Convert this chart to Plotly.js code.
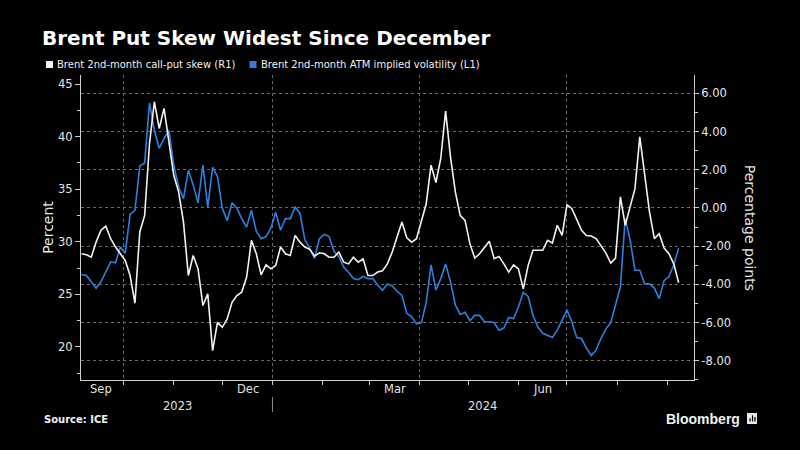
<!DOCTYPE html>
<html>
<head>
<meta charset="utf-8">
<script src="https://cdn.plot.ly/plotly-3.0.1.min.js"></script>
<style>html,body{margin:0;padding:0;background:#000;}#chart{width:800px;height:450px;}</style>
</head>
<body>
<div id="chart"></div>
<script>
// ---- data ----
const dates = [
'2023-09-05','2023-09-08','2023-09-11','2023-09-14','2023-09-17','2023-09-20','2023-09-23','2023-09-26','2023-09-29','2023-10-02',
'2023-10-05','2023-10-08','2023-10-11','2023-10-14','2023-10-17','2023-10-20','2023-10-23','2023-10-26','2023-10-29','2023-11-01',
'2023-11-04','2023-11-07','2023-11-10','2023-11-13','2023-11-16','2023-11-19','2023-11-22','2023-11-25','2023-11-28','2023-12-01',
'2023-12-04','2023-12-07','2023-12-10','2023-12-13','2023-12-16','2023-12-19','2023-12-22','2023-12-25','2023-12-28','2023-12-31',
'2024-01-03','2024-01-06','2024-01-09','2024-01-12','2024-01-15','2024-01-18','2024-01-21','2024-01-24','2024-01-27','2024-01-30',
'2024-02-02','2024-02-05','2024-02-08','2024-02-11','2024-02-14','2024-02-17','2024-02-20','2024-02-23','2024-02-26','2024-02-29',
'2024-03-03','2024-03-06','2024-03-09','2024-03-12','2024-03-15','2024-03-18','2024-03-21','2024-03-24','2024-03-27','2024-03-30',
'2024-04-02','2024-04-05','2024-04-08','2024-04-11','2024-04-14','2024-04-17','2024-04-20','2024-04-23','2024-04-26','2024-04-29',
'2024-05-02','2024-05-05','2024-05-08','2024-05-11','2024-05-14','2024-05-17','2024-05-20','2024-05-23','2024-05-26','2024-05-29',
'2024-06-01','2024-06-04','2024-06-07','2024-06-10','2024-06-13','2024-06-16','2024-06-19','2024-06-22','2024-06-25','2024-06-28',
'2024-07-01','2024-07-04','2024-07-07','2024-07-10','2024-07-13','2024-07-16','2024-07-19','2024-07-22','2024-07-25','2024-07-28',
'2024-07-31','2024-08-03','2024-08-06','2024-08-09','2024-08-12','2024-08-15','2024-08-18','2024-08-21','2024-08-24','2024-08-27',
'2024-08-30','2024-09-02','2024-09-05','2024-09-08'
];

// Brent 2nd-month call-put skew, percentage points (right axis)
const callPutSkew = [
-2.40,-2.45,-2.58,-1.79,-1.17,-0.95,-1.61,-2.05,-2.40,-2.75,
-3.54,-4.99,-1.26,-0.39,3.37,5.56,4.16,5.21,3.46,1.71,
0.84,-0.74,-3.54,-2.49,-3.19,-5.11,-4.50,-7.47,-5.99,-6.25,
-5.81,-4.94,-4.59,-4.41,-3.63,-1.70,-2.40,-3.50,-2.98,-3.19,
-3.01,-2.05,-2.40,-2.49,-1.44,-1.79,-2.05,-2.17,-2.52,-2.35,
-2.40,-2.58,-2.58,-2.31,-2.84,-2.93,-2.58,-2.84,-2.66,-3.54,
-3.54,-3.36,-3.29,-2.93,-2.31,-1.52,-0.74,-1.56,-1.79,-1.61,
-0.74,0.22,2.24,1.33,2.59,5.07,2.67,0.84,-0.39,-0.65,
-1.87,-2.63,-2.40,-2.05,-1.74,-2.66,-2.54,-2.93,-3.36,-2.98,
-3.19,-4.24,-3.01,-2.22,-2.22,-2.22,-1.70,-1.84,-0.91,-1.44,
0.17,-0.04,-0.60,-1.17,-1.44,-1.47,-1.61,-1.99,-2.35,-2.89,
-2.63,0.58,-0.91,0.05,1.01,3.72,1.89,-0.21,-1.61,-1.35,
-2.10,-2.40,-2.93,-3.92
];

// Brent 2nd-month ATM implied volatility, percent (left axis)
const atmImpliedVol = [
26.9,26.8,26.2,25.6,26.2,27.1,28.1,28.0,29.5,28.9,
32.6,33.0,37.2,37.5,43.2,40.6,38.9,39.8,40.6,37.3,
35.2,34.1,36.8,35.4,33.7,37.3,33.3,37.1,36.2,33.2,
32.0,33.7,33.2,32.2,31.4,33.0,31.0,30.3,30.5,31.3,
32.8,31.1,32.2,32.2,33.3,32.7,30.2,29.4,28.4,30.3,
30.7,30.5,29.1,28.6,27.6,27.1,26.5,26.4,26.7,26.5,
26.5,25.9,25.4,26.0,25.8,25.3,24.9,23.2,22.9,22.2,
22.3,24.2,27.8,25.4,26.5,27.9,26.2,24.0,23.1,23.3,
22.5,23.0,23.0,22.4,22.4,22.3,21.6,21.8,22.8,22.7,
23.8,25.2,24.8,23.0,21.9,21.3,21.1,20.9,21.6,22.5,
23.5,22.4,20.9,20.8,19.9,19.2,19.7,20.8,21.7,22.3,
24.1,25.7,32.2,30.2,27.3,27.3,26.0,26.0,25.6,24.6,
26.3,26.7,27.8,29.4
];

const leftTickVals = [20, 25, 30, 35, 40, 45];
const rightTickVals = [-8, -6, -4, -2, 0, 2, 4, 6];
const rightTickText = ['-8.00', '-6.00', '-4.00', '-2.00', '0.00', '2.00', '4.00', '6.00'];
const monthLabels = ['Sep', 'Dec', 'Mar', 'Jun'];
const monthLabelDates = ['2023-09-17', '2023-12-17', '2024-03-17', '2024-06-16'];
const yearLabels = ['2023', '2024'];
const yearLabelDates = ['2023-11-03', '2024-05-10'];
const yearBoundary = '2024-01-01';

const seriesNames = ['Brent 2nd-month call-put skew (R1)', 'Brent 2nd-month ATM implied volatility (L1)'];
const WHITE = '#f2f2f2';
const BLUE = '#2f7fdc';
const FONT = 'DejaVu Sans, Verdana, sans-serif';

const traces = [
  {x: dates, y: atmImpliedVol, name: seriesNames[1], type: 'scatter', mode: 'lines',
   yaxis: 'y', line: {color: BLUE, width: 1.6}},
  {x: dates, y: callPutSkew, name: seriesNames[0], type: 'scatter', mode: 'lines',
   yaxis: 'y2', line: {color: WHITE, width: 1.6}}
];

const annotations = [];
monthLabels.forEach((t, i) => annotations.push({
  text: t, x: monthLabelDates[i], xref: 'x', y: -0.03, yref: 'paper',
  xanchor: 'center', yanchor: 'middle', showarrow: false,
  font: {family: FONT, size: 11.5, color: '#e0e0e0'}
}));
yearLabels.forEach((t, i) => annotations.push({
  text: t, x: yearLabelDates[i], xref: 'x', y: -0.085, yref: 'paper',
  xanchor: 'center', yanchor: 'middle', showarrow: false,
  font: {family: FONT, size: 11.5, color: '#e0e0e0'}
}));
// legend texts
annotations.push({text: seriesNames[0], x: -0.0424, xref: 'paper', y: 1.0344, yref: 'paper',
  xanchor: 'left', yanchor: 'middle', showarrow: false, font: {family: FONT, size: 10, color: '#f0f0f0'}});
annotations.push({text: seriesNames[1], x: 0.2896, xref: 'paper', y: 1.0344, yref: 'paper',
  xanchor: 'left', yanchor: 'middle', showarrow: false, font: {family: FONT, size: 10, color: '#f0f0f0'}});
// right axis title
annotations.push({text: 'Percentage points', x: 1.0925, xref: 'paper', y: 0.5, yref: 'paper',
  textangle: 90, xanchor: 'center', yanchor: 'middle', showarrow: false,
  font: {family: FONT, size: 14, color: '#e6e6e6'}});
// source + brand
annotations.push({text: '<b>Source: ICE</b>', x: -0.0636, xref: 'paper', y: -0.131, yref: 'paper',
  xanchor: 'left', yanchor: 'middle', showarrow: false, font: {family: FONT, size: 10, color: '#f0f0f0'}});
annotations.push({text: '<b>Bloomberg</b>', x: 1.0783, xref: 'paper', y: -0.128, yref: 'paper',
  xanchor: 'right', yanchor: 'middle', showarrow: false,
  font: {family: 'Liberation Sans, Arial, sans-serif', size: 14, color: '#f0f0f0'}});

const shapes = [
  // legend squares
  {type: 'rect', xref: 'paper', yref: 'paper', x0: -0.0571, x1: -0.0457, y0: 1.0230, y1: 1.0459,
   fillcolor: WHITE, line: {width: 0}},
  {type: 'rect', xref: 'paper', yref: 'paper', x0: 0.2749, x1: 0.2863, y0: 1.0230, y1: 1.0459,
   fillcolor: BLUE, line: {width: 0}},
  // year separator
  {type: 'line', xref: 'x', yref: 'paper', x0: yearBoundary, x1: yearBoundary, y0: -0.0557, y1: -0.1049,
   line: {color: '#8a8a8a', width: 1}},
  // brand icon
  {type: 'rect', xref: 'paper', yref: 'paper', x0: 1.0865, x1: 1.1028, y0: -0.1443, y1: -0.1082,
   fillcolor: '#e8e8e8', line: {width: 0}},
  {type: 'rect', xref: 'paper', yref: 'paper', x0: 1.0905, x1: 1.0925, y0: -0.136, y1: -0.125,
   fillcolor: '#000', line: {width: 0}},
  {type: 'rect', xref: 'paper', yref: 'paper', x0: 1.0945, x1: 1.0965, y0: -0.136, y1: -0.116,
   fillcolor: '#000', line: {width: 0}},
  {type: 'rect', xref: 'paper', yref: 'paper', x0: 1.0985, x1: 1.1005, y0: -0.136, y1: -0.121,
   fillcolor: '#000', line: {width: 0}}
];

const layout = {
  width: 800, height: 450,
  paper_bgcolor: '#000', plot_bgcolor: '#000',
  margin: {l: 81, r: 106, t: 75, b: 70, pad: 0},
  showlegend: false,
  font: {family: FONT, color: '#e6e6e6'},
  title: {text: '<b>Brent Put Skew Widest Since December</b>', xref: 'container', yref: 'container',
    x: 0.0525, xanchor: 'left', y: 0.915, yanchor: 'middle',
    font: {family: 'DejaVu Sans, sans-serif', size: 20, color: '#ffffff'}},
  xaxis: {
    type: 'date', range: ['2023-09-04 16:00', '2024-09-17 12:00'],
    tick0: '2023-10-01', dtick: 'M3', tickmode: 'linear',
    showticklabels: false, ticks: 'outside', ticklen: 4, tickcolor: '#cfcfcf',
    showgrid: true, gridcolor: '#6a6a6a', griddash: 'dot', gridwidth: 1,
    showline: true, linecolor: '#cfcfcf', linewidth: 1, zeroline: false,
    minor: {tick0: '2023-10-01', dtick: 'M1', ticks: 'outside', ticklen: 4, tickcolor: '#cfcfcf', showgrid: false}
  },
  yaxis: {
    range: [16.86, 45.86], tickmode: 'array', tickvals: leftTickVals,
    ticks: 'outside', ticklen: 5, tickcolor: '#cfcfcf',
    tickfont: {family: FONT, size: 11.5, color: '#e6e6e6'},
    showgrid: false, zeroline: false, showline: true, linecolor: '#cfcfcf', linewidth: 1,
    minor: {tickmode: 'linear', tick0: 17.5, dtick: 5, ticks: 'outside', ticklen: 3, tickcolor: '#cfcfcf', showgrid: false},
    title: {text: 'Percent', standoff: 1, font: {family: FONT, size: 14, color: '#e6e6e6'}}
  },
  yaxis2: {
    overlaying: 'y', side: 'right', range: [-9.01, 6.96],
    tickmode: 'array', tickvals: rightTickVals, ticktext: rightTickText,
    ticks: 'outside', ticklen: 4, tickcolor: '#cfcfcf',
    tickfont: {family: FONT, size: 11.5, color: '#e6e6e6'},
    showgrid: true, gridcolor: '#6a6a6a', griddash: 'dot', gridwidth: 1,
    zeroline: false, showline: true, linecolor: '#cfcfcf', linewidth: 1,
    minor: {tickmode: 'linear', tick0: -7, dtick: 2, ticks: 'outside', ticklen: 3, tickcolor: '#cfcfcf', showgrid: false}
  },
  annotations: annotations,
  shapes: shapes
};

Plotly.newPlot('chart', traces, layout, {staticPlot: true, displayModeBar: false});
</script>
</body>
</html>
